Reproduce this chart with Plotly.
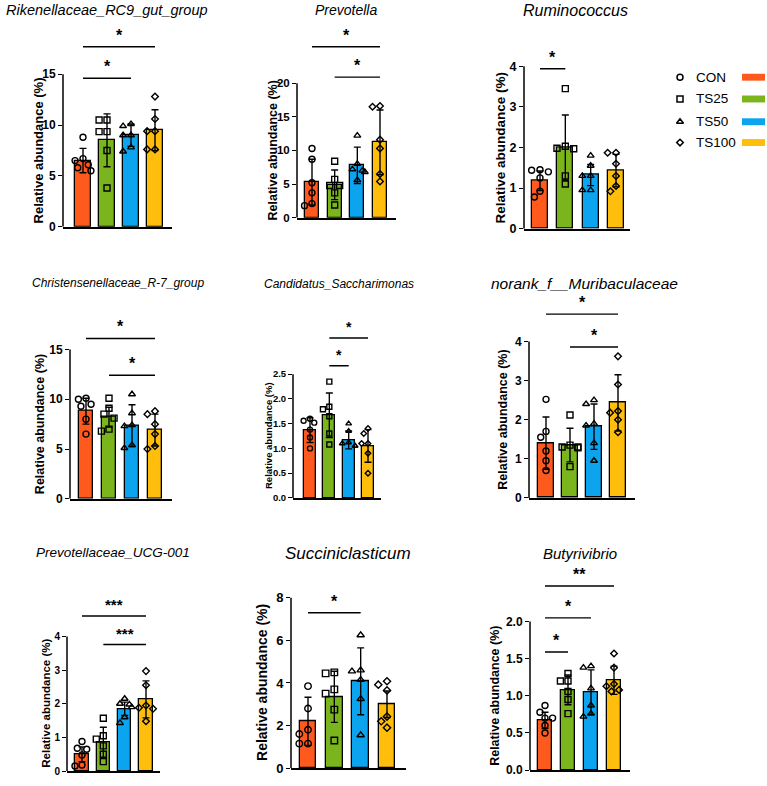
import plotly.graph_objects as go

W, H = 767, 786
FONT = "Liberation Sans, Arial, sans-serif"

groups = ["CON", "TS25", "TS50", "TS100"]
colors = ["#FF5A1E", "#7AB51D", "#0CA4EF", "#FFBE0B"]
symbols = ["circle-open", "square-open", "triangle-up-open", "diamond-open"]
sym_scale = [1.0, 1.0, 1.0, 0.85]

# ---------------- data ----------------
rik_title = "Rikenellaceae_RC9_gut_group"
rik_mean = [6.5, 8.5, 9.0, 9.5]
rik_sd = [1.2, 2.6, 1.1, 2.0]
rik_pts = [[8.8, 6.7, 6.5, 6.1, 5.8, 5.5],
           [10.5, 10.5, 9.35, 9.35, 7.5, 3.8],
           [10.1, 9.9, 9.0, 9.0, 7.8, 7.4],
           [12.8, 10.6, 9.4, 9.4, 7.6, 7.6]]
rik_ticks = [0, 5, 10, 15]
rik_sig = [(0, 3, 17.7, "*"), (0, 2, 14.6, "*")]

pre_title = "Prevotella"
pre_mean = [5.3, 4.9, 7.8, 11.2]
pre_sd = [3.4, 2.2, 2.7, 4.8]
pre_pts = [[10.3, 8.7, 5.2, 3.7, 2.1, 1.8],
           [8.4, 5.7, 4.8, 4.8, 3.7, 1.9],
           [12.2, 8.0, 7.2, 7.0, 6.8, 5.6],
           [16.6, 16.5, 11.6, 10.3, 6.5, 5.4]]
pre_ticks = [0, 5, 10, 15, 20]
pre_sig = [(0, 3, 25.4, "*"), (1, 3, 20.9, "*")]

rum_title = "Ruminococcus"
rum_mean = [1.18, 2.0, 1.32, 1.43]
rum_sd = [0.24, 0.8, 0.26, 0.4]
rum_pts = [[1.45, 1.44, 1.40, 1.25, 0.92, 0.78],
           [3.45, 2.03, 1.98, 1.97, 1.3, 1.1],
           [1.8, 1.55, 1.3, 1.3, 0.95, 0.95],
           [1.87, 1.87, 1.6, 1.3, 1.05, 0.92]]
rum_ticks = [0, 1, 2, 3, 4]
rum_sig = [(0, 1, 3.94, "*")]

chr_title = "Christensenellaceae_R-7_group"
chr_mean = [8.8, 8.2, 7.35, 6.9]
chr_sd = [1.3, 1.0, 2.1, 1.6]
chr_pts = [[10.1, 10.0, 9.5, 9.3, 8.0, 6.5],
           [10.1, 9.1, 8.5, 8.1, 7.0, 6.8],
           [10.5, 8.6, 7.4, 7.3, 5.4, 5.1],
           [8.8, 8.5, 7.5, 6.5, 5.3, 5.0]]
chr_ticks = [0, 5, 10, 15]
chr_sig = [(0, 3, 16.1, "*"), (1, 3, 12.4, "*")]

can_title = "Candidatus_Saccharimonas"
can_mean = [1.37, 1.67, 1.17, 1.05]
can_sd = [0.25, 0.45, 0.18, 0.33]
can_pts = [[1.6, 1.56, 1.52, 1.38, 1.22, 1.0],
           [2.35, 1.84, 1.79, 1.65, 1.3, 1.08],
           [1.5, 1.35, 1.12, 1.1, 1.05, 1.05],
           [1.4, 1.3, 1.1, 1.1, 0.9, 0.5]]
can_ticks = [0, 0.5, 1.0, 1.5, 2.0, 2.5]
can_sig = [(1, 3, 3.23, "*"), (1, 2, 2.67, "*")]

mur_title = "norank_f__Muribaculaceae"
mur_mean = [1.4, 1.35, 1.82, 2.43]
mur_sd = [0.67, 0.43, 0.58, 0.72]
mur_pts = [[2.52, 1.7, 1.55, 1.2, 0.95, 0.7],
           [2.12, 1.35, 1.3, 1.3, 1.28, 0.8],
           [2.5, 2.4, 1.9, 1.85, 1.4, 0.95],
           [3.62, 2.9, 2.22, 2.18, 2.0, 1.68]]
mur_ticks = [0, 1, 2, 3, 4]
mur_sig = [(0, 3, 4.7, "*"), (1, 3, 3.86, "*")]

ucg_title = "Prevotellaceae_UCG-001"
ucg_mean = [0.5, 0.85, 1.85, 2.13]
ucg_sd = [0.22, 0.45, 0.2, 0.55]
ucg_pts = [[0.88, 0.68, 0.65, 0.48, 0.18, 0.15],
           [1.57, 1.05, 0.95, 0.75, 0.5, 0.28],
           [2.15, 2.0, 1.98, 1.9, 1.6, 1.43],
           [2.97, 2.55, 1.95, 1.88, 1.85, 1.48]]
ucg_ticks = [0, 1, 2, 3, 4]
ucg_sig = [(0, 3, 4.61, "***"), (1, 3, 3.76, "***")]

suc_title = "Succiniclasticum"
suc_mean = [2.2, 3.35, 4.08, 3.0]
suc_sd = [1.13, 1.2, 1.57, 0.62]
suc_pts = [[3.85, 2.8, 1.8, 1.6, 1.15, 1.15],
           [4.5, 4.45, 3.7, 3.5, 2.75, 1.3],
           [6.25, 4.6, 4.55, 4.15, 3.25, 1.55],
           [4.08, 3.92, 3.65, 2.42, 2.2, 1.9]]
suc_ticks = [0, 2, 4, 6, 8]
suc_sig = [(0, 2, 7.3, "*")]

but_title = "Butyrivibrio"
but_mean = [0.67, 1.08, 1.05, 1.21]
but_sd = [0.11, 0.2, 0.3, 0.19]
but_pts = [[0.87, 0.78, 0.7, 0.7, 0.6, 0.5],
           [1.3, 1.2, 1.2, 1.06, 0.95, 0.76],
           [1.4, 1.38, 1.1, 0.87, 0.76, 0.72],
           [1.57, 1.38, 1.16, 1.13, 1.08, 1.06]]
but_ticks = [0, 0.5, 1.0, 1.5, 2.0]
but_sig = [(0, 3, 2.48, "**"), (0, 2, 2.05, "*"), (0, 1, 1.59, "*")]

ylabel = "Relative abundance (%)"

# ---------------- layout geometry (pixels) ----------------
panels = [
    dict(t=rik_title, m=rik_mean, sd=rik_sd, p=rik_pts, ticks=rik_ticks, sig=rik_sig,
         L=63, R=172, y0=229, yt=75, c0=83, c3=155, lx=38, ls=13, ts=12,
         tc=(107, 10, 14.5), fmt="{:g}", ms=6, ss=16),
    dict(t=pre_title, m=pre_mean, sd=pre_sd, p=pre_pts, ticks=pre_ticks, sig=pre_sig,
         L=297, R=396, y0=220, yt=84, c0=312, c3=380, lx=273, ls=12.5, ts=11.5,
         tc=(346, 10, 14), fmt="{:g}", ms=6, ss=16),
    dict(t=rum_title, m=rum_mean, sd=rum_sd, p=rum_pts, ticks=rum_ticks, sig=rum_sig,
         L=524, R=630, y0=231, yt=67, c0=540, c3=616, lx=500, ls=13.5, ts=12.5,
         tc=(575, 11, 16), fmt="{:g}", ms=6, ss=16),
    dict(t=chr_title, m=chr_mean, sd=chr_sd, p=chr_pts, ticks=chr_ticks, sig=chr_sig,
         L=70, R=172, y0=504, yt=353, c0=86, c3=155, lx=40, ls=12.5, ts=12,
         tc=(118, 286, 12), fmt="{:g}", ms=6, ss=16),
    dict(t=can_title, m=can_mean, sd=can_sd, p=can_pts, ticks=can_ticks, sig=can_sig,
         L=293, R=381, y0=503, yt=378, c0=310, c3=368, lx=268, ls=9.5, ts=9.5,
         tc=(339, 287, 12), fmt="{:.1f}", ms=5, ss=14),
    dict(t=mur_title, m=mur_mean, sd=mur_sd, p=mur_pts, ticks=mur_ticks, sig=mur_sig,
         L=529, R=635, y0=503, yt=345, c0=546, c3=618, lx=503, ls=12.5, ts=12,
         tc=(584, 286, 15.5), fmt="{:g}", ms=6, ss=16),
    dict(t=ucg_title, m=ucg_mean, sd=ucg_sd, p=ucg_pts, ticks=ucg_ticks, sig=ucg_sig,
         L=67, R=160, y0=779, yt=643, c0=82, c3=146, lx=46, ls=11.5, ts=10,
         tc=(113, 558, 13.5), fmt="{:g}", ms=6, ss=15),
    dict(t=suc_title, m=suc_mean, sd=suc_sd, p=suc_pts, ticks=suc_ticks, sig=suc_sig,
         L=291, R=406, y0=776, yt=604, c0=308, c3=387, lx=262, ls=14, ts=13,
         tc=(348, 559, 17), fmt="{:g}", ms=6.5, ss=16),
    dict(t=but_title, m=but_mean, sd=but_sd, p=but_pts, ticks=but_ticks, sig=but_sig,
         L=530, R=630, y0=778, yt=628, c0=545, c3=614, lx=495, ls=12.5, ts=12,
         tc=(580, 559, 15), fmt="{:.1f}", ms=6, ss=16),
]


def swarm(vals, pxu, spacing, msize):
    cands = [0.0, -0.22, 0.22, -0.11, 0.11, -0.33, 0.33]
    offs = [0.0] * len(vals)
    placed = []
    order = sorted(range(len(vals)), key=lambda i: -vals[i])
    for i in order:
        chosen = cands[-1]
        for c in cands:
            if all(((c - pc) * spacing) ** 2 + ((vals[i] - pv) * pxu) ** 2 >= (msize + 0.8) ** 2
                   for pc, pv in placed):
                chosen = c
                break
        offs[i] = chosen
        placed.append((chosen, vals[i]))
    return offs


fig = go.Figure()
shapes = []
annotations = []
layout_axes = {}

for k, P in enumerate(panels, start=1):
    xa = "x" if k == 1 else f"x{k}"
    ya = "y" if k == 1 else f"y{k}"
    xname = "xaxis" if k == 1 else f"xaxis{k}"
    yname = "yaxis" if k == 1 else f"yaxis{k}"
    ymax = P["ticks"][-1]
    pxu = (P["y0"] - P["yt"]) / ymax
    top_level = max([ymax] + [s[2] for s in P["sig"]])
    rtop = top_level + 28 / pxu
    dom_top_px = P["y0"] - rtop * pxu
    spacing = (P["c3"] - P["c0"]) / 3
    xr = [-(P["c0"] - P["L"]) / spacing, 3 + (P["R"] - P["c3"]) / spacing]

    layout_axes[xname] = dict(domain=[P["L"] / W, P["R"] / W], range=xr, anchor=ya,
                              showline=True, linecolor="black", linewidth=1.5,
                              showticklabels=False, ticks="", showgrid=False, zeroline=False,
                              fixedrange=True)
    layout_axes[yname] = dict(domain=[1 - P["y0"] / H, 1 - dom_top_px / H], range=[0, rtop],
                              anchor=xa, showline=False, showgrid=False, zeroline=False,
                              tickvals=P["ticks"], ticktext=[P["fmt"].format(v) for v in P["ticks"]],
                              ticks="outside", ticklen=4, tickwidth=1.4, tickcolor="black",
                              tickfont=dict(size=P["ts"], color="black", family=FONT, weight="bold"),
                              fixedrange=True)

    fig.add_trace(go.Bar(x=[0, 1, 2, 3], y=P["m"], width=0.63, xaxis=xa, yaxis=ya,
                         marker=dict(color=colors, line=dict(color="black", width=1.3)),
                         error_y=dict(type="data", array=P["sd"], visible=True, color="black",
                                      thickness=1.4, width=3.5),
                         showlegend=False, hoverinfo="skip"))
    for g in range(4):
        vals = P["p"][g]
        offs = swarm(vals, pxu, spacing, P["ms"])
        fig.add_trace(go.Scatter(x=[g + o for o in offs], y=vals, mode="markers",
                                 xaxis=xa, yaxis=ya, showlegend=False, hoverinfo="skip",
                                 marker=dict(symbol=symbols[g], size=P["ms"] * sym_scale[g],
                                             color="black", line=dict(width=1.4, color="black"))))

    # y axis line only up to the last tick
    shapes.append(dict(type="line", xref=f"{xa} domain", yref=ya, x0=0, x1=0, y0=0, y1=ymax,
                       line=dict(color="black", width=1.5)))
    # significance brackets
    for i, j, lvl, lab in P["sig"]:
        shapes.append(dict(type="line", xref=xa, yref=ya, x0=i, x1=j, y0=lvl, y1=lvl,
                           line=dict(color="black", width=1.4)))
        annotations.append(dict(x=(i + j) / 2, y=lvl, xref=xa, yref=ya, text=f"<b>{lab}</b>",
                                showarrow=False, yanchor="bottom", xanchor="center", yshift=1,
                                font=dict(size=P["ss"], color="black", family=FONT)))
    # y label
    ymid_px = P["y0"] - (P["y0"] - P["yt"]) / 2
    annotations.append(dict(x=P["lx"] / W, y=1 - ymid_px / H, xref="paper", yref="paper",
                            text=f"<b>{ylabel}</b>", textangle=-90, showarrow=False,
                            xanchor="center", yanchor="middle",
                            font=dict(size=P["ls"], color="black", family=FONT)))
    # title
    cx, cy, cs = P["tc"]
    annotations.append(dict(x=cx / W, y=1 - cy / H, xref="paper", yref="paper",
                            text=f"<i>{P['t']}</i>", showarrow=False,
                            xanchor="center", yanchor="middle",
                            font=dict(size=cs, color="black", family=FONT)))

# ---------------- custom legend ----------------
leg_rows = [78, 100, 123, 144]
layout_axes["xaxis10"] = dict(domain=[660 / W, 700 / W], range=[660, 700], visible=False,
                              anchor="y10", fixedrange=True)
layout_axes["yaxis10"] = dict(domain=[1 - 156 / H, 1 - 66 / H], range=[156, 66], visible=False,
                              anchor="x10", fixedrange=True)
for g in range(4):
    fig.add_trace(go.Scatter(x=[680], y=[leg_rows[g]], mode="markers", xaxis="x10", yaxis="y10",
                             showlegend=False, hoverinfo="skip",
                             marker=dict(symbol=symbols[g], size=6 * sym_scale[g], color="black",
                                         line=dict(width=1.5, color="black"))))
    annotations.append(dict(x=694 / W, y=1 - leg_rows[g] / H, xref="paper", yref="paper",
                            text=groups[g], showarrow=False, xanchor="left", yanchor="middle",
                            font=dict(size=13.5, color="black", family=FONT)))
    shapes.append(dict(type="rect", xref="paper", yref="paper", x0=742 / W, x1=765 / W,
                       y0=1 - (leg_rows[g] + 3.5) / H, y1=1 - (leg_rows[g] - 3.5) / H,
                       fillcolor=colors[g], line=dict(width=0)))

fig.update_layout(width=W, height=H, margin=dict(l=0, r=0, t=0, b=0),
                  paper_bgcolor="white", plot_bgcolor="white", showlegend=False,
                  font=dict(family=FONT, color="black"), shapes=shapes,
                  annotations=annotations, bargap=0, **layout_axes)

fig.write_html("out.html")
